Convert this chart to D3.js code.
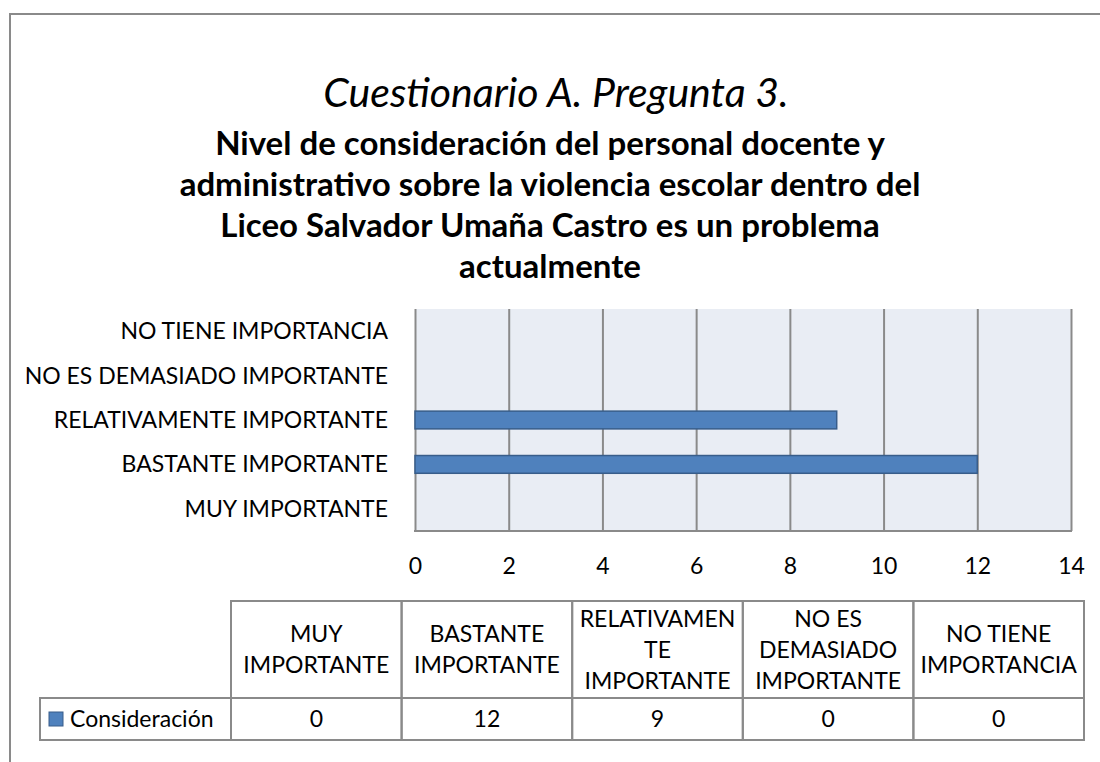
<!DOCTYPE html>
<meta charset="utf-8">
<style>
  body { margin: 0; background: #fff; }
  svg { display: block; }
  .lbl { font-family: 'Lato', sans-serif; fill: #000; }
  .grid line { stroke: #8a8a8a; stroke-width: 2; }
  .grid text { font-family: 'Lato', sans-serif; font-size: 23px; fill: #000; }
  .cell { fill: none; stroke: #8a8a8a; stroke-width: 2; }
</style>
<body>
<script src="https://d3js.org/d3.v7.min.js"></script>
<script>

var categories = ["MUY IMPORTANTE", "BASTANTE IMPORTANTE", "RELATIVAMENTE IMPORTANTE",
                  "NO ES DEMASIADO IMPORTANTE", "NO TIENE IMPORTANCIA"];
var values = [0, 12, 9, 0, 0];
var headerLines = [["MUY", "IMPORTANTE"], ["BASTANTE", "IMPORTANTE"],
                   ["RELATIVAMEN", "TE", "IMPORTANTE"], ["NO ES", "DEMASIADO", "IMPORTANTE"],
                   ["NO TIENE", "IMPORTANCIA"]];
var seriesName = "Consideración";
var xTicks = [0, 2, 4, 6, 8, 10, 12, 14];
var title = "Cuestionario A. Pregunta 3.";
var subtitle = ["Nivel de consideración del personal docente y",
                "administrativo sobre la violencia escolar dentro del",
                "Liceo Salvador Umaña Castro es un problema",
                "actualmente"];

var width = 1100,
    height = 762;

var plot = {left: 415, right: 1071, top: 309, bottom: 531};

var svg = d3.select("body").append("svg")
    .attr("width", width)
    .attr("height", height);

// outer chart frame
svg.append("rect")
    .attr("x", 10).attr("y", 14)
    .attr("width", 1200).attr("height", 900)
    .attr("fill", "none")
    .attr("stroke", "#8a8a8a")
    .attr("stroke-width", 2);

// titles
svg.append("text")
    .attr("class", "lbl")
    .attr("x", 556).attr("y", 93)
    .attr("dy", "0.35em")
    .attr("text-anchor", "middle")
    .style("font-size", "41px")
    .style("font-style", "italic")
    .text(title);

svg.append("g").selectAll("text")
    .data(subtitle)
  .enter().append("text")
    .attr("class", "lbl")
    .attr("x", 550)
    .attr("y", (d, i) => 143 + i * 41)
    .attr("dy", "0.35em")
    .attr("text-anchor", "middle")
    .style("font-size", "33px")
    .style("font-weight", "bold")
    .text(d => d);

var x = d3.scaleLinear()
    .domain([0, 14])
    .range([plot.left, plot.right]);

var y = d3.scaleBand()
    .domain(categories)
    .range([plot.bottom, plot.top])
    .paddingInner(0.6)
    .paddingOuter(0.3);

var yCat = d3.scaleBand()
    .domain(categories)
    .range([plot.bottom, plot.top]);

svg.append("rect")
    .attr("x", plot.left).attr("y", plot.top)
    .attr("width", plot.right - plot.left)
    .attr("height", plot.bottom - plot.top)
    .attr("fill", "#e9edf4");

var grid = svg.append("g")
    .attr("class", "grid")
    .attr("transform", "translate(0," + plot.bottom + ")")
    .call(d3.axisBottom(x)
        .tickValues(xTicks)
        .tickSizeInner(-(plot.bottom - plot.top))
        .tickSizeOuter(0)
        .tickPadding(26));
grid.select(".domain").remove();
grid.selectAll("text").attr("y", 35).attr("dy", "0.35em");

svg.append("line")
    .attr("x1", plot.left - 1).attr("x2", plot.right + 1)
    .attr("y1", plot.bottom).attr("y2", plot.bottom)
    .attr("stroke", "#8a8a8a")
    .attr("stroke-width", 2);

// bars
svg.append("g").selectAll("rect")
    .data(categories)
  .enter().append("rect")
    .attr("x", x(0))
    .attr("y", d => y(d))
    .attr("width", (d, i) => x(values[i]) - x(0))
    .attr("height", y.bandwidth())
    .attr("fill", "#4f81bd")
    .attr("stroke", "#385d8a")
    .attr("stroke-width", 1.5)
    .style("display", (d, i) => values[i] > 0 ? null : "none");

// category labels
svg.append("g").selectAll("text")
    .data(categories)
  .enter().append("text")
    .attr("class", "lbl")
    .attr("x", 388)
    .attr("y", d => yCat(d) + yCat.bandwidth() / 2)
    .attr("dy", "0.35em")
    .attr("text-anchor", "end")
    .style("font-size", "23px")
    .text(d => d);

// data table
var col = d3.scaleBand()
    .domain(categories)
    .range([231, 1084]);

var table = {top: 601, mid: 698, bottom: 740, legendLeft: 40};

var cells = svg.append("g");

categories.forEach(function(c, i) {
  cells.append("rect")
      .attr("class", "cell")
      .attr("x", col(c)).attr("y", table.top)
      .attr("width", col.bandwidth()).attr("height", table.mid - table.top);
  cells.append("rect")
      .attr("class", "cell")
      .attr("x", col(c)).attr("y", table.mid)
      .attr("width", col.bandwidth()).attr("height", table.bottom - table.mid);

  var lines = headerLines[i];
  var cy = (table.top + table.mid) / 2;
  var lh = 31;
  cells.append("g").selectAll("text")
      .data(lines)
    .enter().append("text")
      .attr("class", "lbl")
      .attr("x", col(c) + col.bandwidth() / 2)
      .attr("y", (d, j) => cy + (j - (lines.length - 1) / 2) * lh)
      .attr("dy", "0.35em")
      .attr("text-anchor", "middle")
      .style("font-size", "23px")
      .text(d => d);

  cells.append("text")
      .attr("class", "lbl")
      .attr("x", col(c) + col.bandwidth() / 2)
      .attr("y", (table.mid + table.bottom) / 2)
      .attr("dy", "0.35em")
      .attr("text-anchor", "middle")
      .style("font-size", "23px")
      .text(values[i]);
});

cells.append("rect")
    .attr("class", "cell")
    .attr("x", table.legendLeft).attr("y", table.mid)
    .attr("width", 231 - table.legendLeft).attr("height", table.bottom - table.mid);

cells.append("rect")
    .attr("x", 49).attr("y", 712)
    .attr("width", 14).attr("height", 14)
    .attr("fill", "#4f81bd")
    .attr("stroke", "#385d8a")
    .attr("stroke-width", 1);

cells.append("text")
    .attr("class", "lbl")
    .attr("x", 70)
    .attr("y", (table.mid + table.bottom) / 2)
    .attr("dy", "0.35em")
    .style("font-size", "23px")
    .text(seriesName);

</script>
</body>
